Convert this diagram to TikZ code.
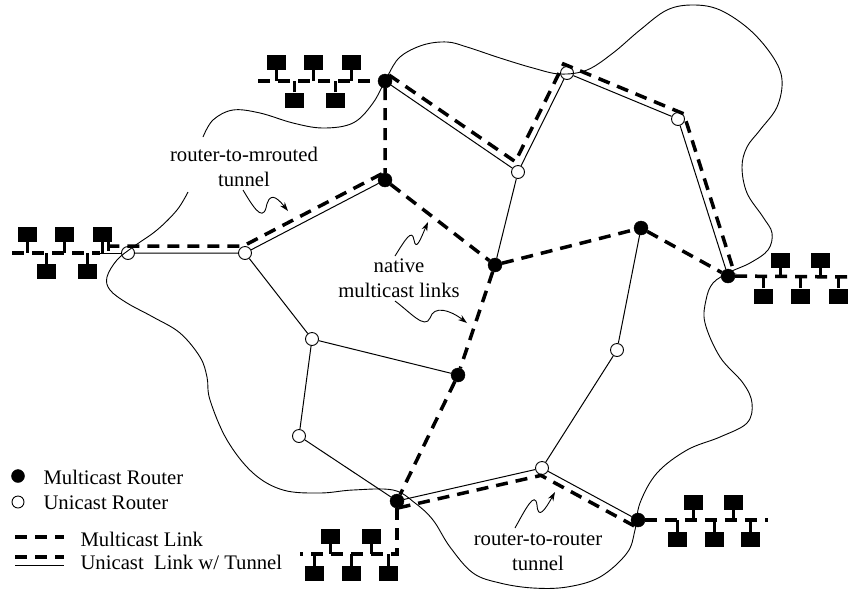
\documentclass[tikz,border=0pt]{standalone}
\usepackage{fontspec}
\setmainfont{Liberation Serif}
\usetikzlibrary{arrows.meta}

\tikzset{
  mrouter/.style={circle,draw,fill=black,inner sep=0pt,minimum size=14pt},
  urouter/.style={circle,draw,line width=0.9pt,inner sep=0pt,minimum size=13pt},
  uni/.style={line width=1pt},
  mcast/.style={line width=3.5pt,dash pattern=on 12pt off 8pt},
  host/.style={rectangle,fill=black,inner sep=0pt,minimum width=19pt,minimum height=15pt},
  stem/.style={line width=3pt},
  squig/.style={line width=0.9pt,-{Stealth[length=9pt,width=6pt]}},
  lbl/.style={font=\fontsize{20.7}{25}\selectfont,align=center}
}

\begin{document}
\begin{tikzpicture}[x=1pt,y=-1pt]
  \useasboundingbox (0,0) rectangle (848,590);

  % boundary of the unicast region
  \draw[line width=0.9pt] plot[smooth,tension=0.6] coordinates {
    (203,137) (213,120) (233,110) (260,113) (293,123) (323,128) (353,123)
    (373,103) (387,77) (400,57) (423,45) (447,42) (467,47) (500,58)
    (533,68) (560,74) (587,70) (613,53) (640,30) (667,10) (693,5)
    (720,10) (750,30) (773,57) (782,80) (777,107) (760,130) (747,147)
    (742,167) (747,193) (763,217) (772,233) (768,250) (750,263) (730,272)
    (713,283) (706,300) (705,323) (720,357) (743,383) (752,403) (747,423)
    (720,437) (687,450) (657,473) (640,503) (635,530) (627,553) (600,577)
    (567,587) (533,588) (500,583) (473,573) (450,547) (433,520) (415,503)
    (393,490) (353,490) (320,493) (283,490) (253,473) (227,440) (210,400)
    (207,377) (200,357) (180,333) (153,317) (127,303) (110,290) (107,277)
    (117,260) (133,247) (157,230) (177,210) (188,192)};

  % routers
  \node[mrouter] (m1) at (385,81)  {};
  \node[mrouter] (m2) at (385,180) {};
  \node[mrouter] (m3) at (495,265) {};
  \node[mrouter] (m4) at (641,228) {};
  \node[mrouter] (m5) at (728,276) {};
  \node[mrouter] (m6) at (458,375) {};
  \node[mrouter] (m7) at (397,501) {};
  \node[mrouter] (m8) at (638,520) {};
  \node[urouter] (u1) at (128,253) {};
  \node[urouter] (u2) at (245,253) {};
  \node[urouter] (u3) at (567,73)  {};
  \node[urouter] (u4) at (518,172) {};
  \node[urouter] (u5) at (678,119) {};
  \node[urouter] (u6) at (312,339) {};
  \node[urouter] (u7) at (299,436) {};
  \node[urouter] (u8) at (617,350) {};
  \node[urouter] (u9) at (542,468) {};

  % unicast links
  \draw[uni] (m1) -- (u4) -- (u3) -- (u5) -- (m5);
  \draw[uni] (m2) -- (u2) -- (u1);
  \draw[uni] (m7) -- (u9) -- (m8);
  \draw[uni] (u4) -- (m3);
  \draw[uni] (m4) -- (u8) -- (u9);
  \draw[uni] (u2) -- (u6) -- (m6);
  \draw[uni] (u6) -- (u7) -- (m7);

  % multicast links
  \draw[mcast] (m1) -- (m2) -- (m3) -- (m4) -- (m5);
  \draw[mcast] (m3) -- (m6) -- (m7);

  % tunnels
  \coordinate (ta0) at (389,75);
  \coordinate (ta1) at (515.3,161.7);
  \coordinate (ta2) at (563.6,64);
  \coordinate (ta3) at (683.7,113.8);
  \coordinate (ta4) at (734.7,273.9);
  \draw[mcast] (ta0) -- (ta1) -- (ta2) -- (ta3) -- (ta4);
  \coordinate (tb0) at (381.8,173.8);
  \coordinate (tb1) at (243.3,246);
  \coordinate (tb2) at (107,246);
  \draw[mcast,-{Bar[width=10pt,line width=2.5pt]}] (tb0) -- (tb1) -- (tb2);
  \coordinate (tc0) at (398.6,507.8);
  \coordinate (tc1) at (541,475.4);
  \coordinate (tc2) at (634.7,526.2);
  \draw[mcast] (tc0) -- (tc1) -- (tc2);

  % LANs
  \coordinate (lanl) at (12,253);
  \coordinate (lanlr) at (100,253);
  \draw[mcast] (lanl) -- (lanlr);
  \draw[uni] (lanlr) -- (u1);
  \foreach \x [count=\i] in {27,64,102}{
    \node[host] (hl\i) at (\x,234.5) {};
    \draw[stem] (hl\i.south) -- (\x,253);
  }
  \foreach \x [count=\i] in {46,87}{
    \node[host] (hlb\i) at (\x,271.5) {};
    \draw[stem] (hlb\i.north) -- (\x,253);
  }

  \coordinate (lant) at (258,81);
  \draw[mcast] (lant) -- (m1);
  \foreach \x [count=\i] in {276,313,351}{
    \node[host] (ht\i) at (\x,62) {};
    \draw[stem] (ht\i.south) -- (\x,81);
  }
  \foreach \x [count=\i] in {294,335}{
    \node[host] (htb\i) at (\x,100) {};
    \draw[stem] (htb\i.north) -- (\x,81);
  }

  \coordinate (lanr) at (848,277);
  \draw[mcast] (m5) -- (lanr);
  \foreach \x [count=\i] in {780,820}{
    \node[host] (hr\i) at (\x,260) {};
    \draw[stem] (hr\i.south) -- (\x,277);
  }
  \foreach \x [count=\i] in {763,800,838}{
    \node[host] (hrb\i) at (\x,296) {};
    \draw[stem] (hrb\i.north) -- (\x,277);
  }

  \coordinate (lanbr) at (768,520);
  \draw[mcast] (m8) -- (lanbr);
  \foreach \x [count=\i] in {693,733}{
    \node[host] (hbr\i) at (\x,502.5) {};
    \draw[stem] (hbr\i.south) -- (\x,520);
  }
  \foreach \x [count=\i] in {677,714,750}{
    \node[host] (hbrb\i) at (\x,539.5) {};
    \draw[stem] (hbrb\i.north) -- (\x,520);
  }

  \coordinate (lanb) at (397,554);
  \coordinate (lanbl) at (300,554);
  \draw[mcast] (m7) -- (lanb) -- (lanbl);
  \foreach \x [count=\i] in {330,371}{
    \node[host] (hb\i) at (\x,536.5) {};
    \draw[stem] (hb\i.south) -- (\x,554);
  }
  \foreach \x [count=\i] in {314,351,388}{
    \node[host] (hbb\i) at (\x,573.5) {};
    \draw[stem] (hbb\i.north) -- (\x,554);
  }

  % labels
  \node[lbl] (lrm) at (244,167) {router-to-mrouted\\tunnel};
  \node[lbl] (lnat) at (399,278) {native\\multicast links};
  \node[lbl] (lrr) at (538,552) {router-to-router\\tunnel};

  \draw[squig] (243,190) .. controls (252,205) and (262,222) .. (266,208)
                         .. controls (269,192) and (276,196) .. (288,211);
  \draw[squig] (395,256) .. controls (405,240) and (412,228) .. (414,240)
                         .. controls (416,252) and (421,238) .. (428,222);
  \draw[squig] (395,301) .. controls (410,312) and (425,330) .. (430,318)
                         .. controls (434,305) and (450,310) .. (467,323);
  \draw[squig] (515,528) .. controls (525,510) and (535,490) .. (537,505)
                         .. controls (538,520) and (545,510) .. (555,492);

  % legend
  \node[mrouter,minimum size=13pt] (km) at (18,476) {};
  \node[lbl,anchor=base west] (kmt) at (40,484) {Multicast Router};
  \node[urouter,minimum size=12pt] (ku) at (18,502) {};
  \node[lbl,anchor=base west] (kut) at (40,509) {Unicast Router};
  \coordinate (k1a) at (15,537);
  \coordinate (k1b) at (64,537);
  \draw[mcast] (k1a) -- (k1b);
  \node[lbl,anchor=base west] (kml) at (77,546) {Multicast Link};
  \coordinate (k2a) at (15,557);
  \coordinate (k2b) at (64,557);
  \coordinate (k3a) at (15,565);
  \coordinate (k3b) at (64,565);
  \draw[mcast] (k2a) -- (k2b);
  \draw[uni] (k3a) -- (k3b);
  \node[lbl,anchor=base west] (kul) at (77,569) {Unicast\ \ Link w/ Tunnel};
\end{tikzpicture}
\end{document}
